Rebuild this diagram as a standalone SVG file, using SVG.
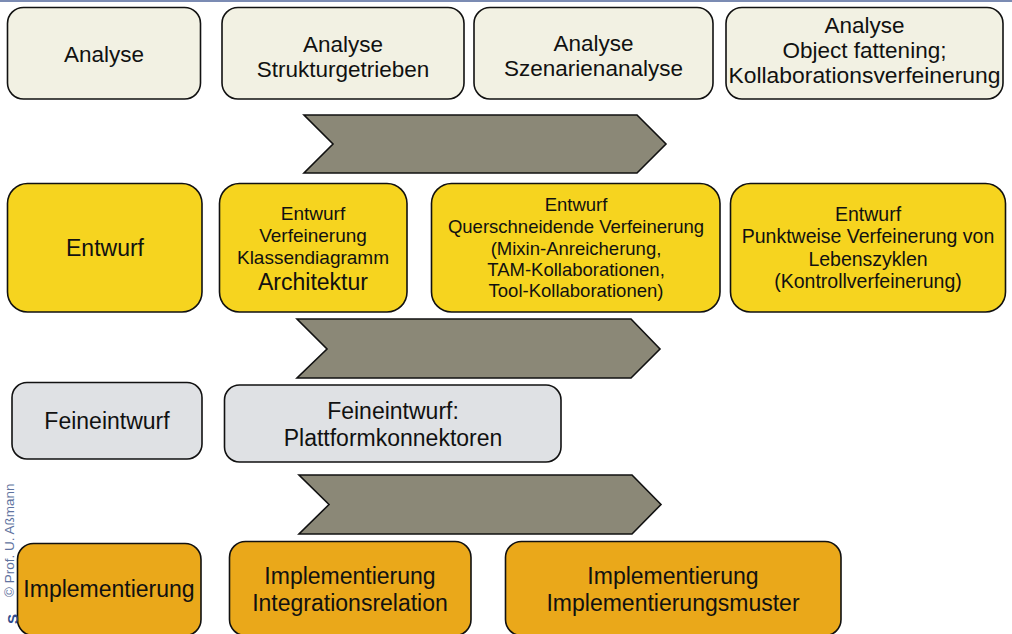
<svg xmlns="http://www.w3.org/2000/svg" width="1012" height="634" viewBox="0 0 1012 634">
<style>
text{font-family:"Liberation Sans",Arial,sans-serif;fill:#111;text-anchor:middle}
.box{stroke:#111;stroke-width:1.6}
.ana{fill:#f2f1e3}
.ent{fill:#f6d41f}
.fei{fill:#dfe1e4}
.imp{fill:#eaa81a}
.chev{fill:#8b8877;stroke:#111;stroke-width:1.6;stroke-linejoin:miter}
.big{font-size:23px}
.r1{font-size:22.5px}
.s19{font-size:19px}
.s185{font-size:18.5px}
.s195{font-size:19.5px}
</style>
<rect x="0" y="0" width="1012" height="634" fill="#ffffff"/>
<line x1="0" y1="1" x2="1012" y2="1" stroke="#7b8bb3" stroke-width="2"/>

<g id="connectors">
<polygon class="chev" points="304,115 637,115 666,144 637,173 304,173 333,144"/>
<polygon class="chev" points="297,319 631,319 660,349 631,378 297,378 327,349"/>
<polygon class="chev" points="299,475 632,475 661,504.5 632,534 299,534 329,504.5"/>
</g>

<g id="analyse">
<rect class="box ana" x="7.5" y="7.5" width="193" height="91.5" rx="16"/>
<text class="r1" x="104" y="62">Analyse</text>
</g>
<g id="analyse-struktur">
<rect class="box ana" x="222" y="7.5" width="242" height="91.5" rx="16"/>
<text class="r1" x="343" y="52">Analyse</text>
<text class="r1" x="343" y="77">Strukturgetrieben</text>
</g>
<g id="analyse-szenario">
<rect class="box ana" x="474" y="7.5" width="239" height="91.5" rx="16"/>
<text class="r1" x="593.5" y="51">Analyse</text>
<text class="r1" x="593.5" y="76">Szenarienanalyse</text>
</g>
<g id="analyse-object">
<rect class="box ana" x="726" y="7.5" width="277" height="91.5" rx="16"/>
<text class="r1" x="864.5" y="33">Analyse</text>
<text class="r1" x="864.5" y="58">Object fattening;</text>
<text class="r1" x="864.5" y="83" textLength="272" lengthAdjust="spacingAndGlyphs">Kollaborationsverfeinerung</text>
</g>

<g id="entwurf">
<rect class="box ent" x="7.5" y="183.5" width="194.5" height="128.5" rx="20"/>
<text class="big" x="105" y="256">Entwurf</text>
</g>
<g id="entwurf-verfeinerung">
<rect class="box ent" x="219.5" y="183.5" width="187.5" height="128.5" rx="20"/>
<text class="s19" x="313" y="220">Entwurf</text>
<text class="s19" x="313" y="242">Verfeinerung</text>
<text class="s19" x="313" y="264">Klassendiagramm</text>
<text class="big" x="313" y="290">Architektur</text>
</g>
<g id="entwurf-querschneidend">
<rect class="box ent" x="431.5" y="183.5" width="288.5" height="128.5" rx="20"/>
<text class="s185" x="576" y="211">Entwurf</text>
<text class="s185" x="576" y="233">Querschneidende Verfeinerung</text>
<text class="s185" x="576" y="255">(Mixin-Anreicherung,</text>
<text class="s185" x="576" y="276">TAM-Kollaborationen,</text>
<text class="s185" x="576" y="297">Tool-Kollaborationen)</text>
</g>
<g id="entwurf-punktweise">
<rect class="box ent" x="730.5" y="183.5" width="275" height="128.5" rx="20"/>
<text class="s195" x="868" y="221">Entwurf</text>
<text class="s195" x="868" y="243">Punktweise Verfeinerung von</text>
<text class="s195" x="868" y="266">Lebenszyklen</text>
<text class="s195" x="868" y="288">(Kontrollverfeinerung)</text>
</g>

<g id="feinentwurf">
<rect class="box fei" x="12" y="382.5" width="190" height="76.5" rx="15"/>
<text class="big" x="107" y="429">Feineintwurf</text>
</g>
<g id="feinentwurf-plattform">
<rect class="box fei" x="224.5" y="385" width="336.5" height="77" rx="15"/>
<text class="big" x="393" y="419">Feineintwurf:</text>
<text class="big" x="393" y="446">Plattformkonnektoren</text>
</g>

<g id="implementierung">
<rect class="box imp" x="17.5" y="543.5" width="183.5" height="92" rx="16"/>
<text class="big" x="109" y="597">Implementierung</text>
</g>
<g id="implementierung-integration">
<rect class="box imp" x="229.5" y="541.5" width="241.5" height="94" rx="16"/>
<text class="big" x="350" y="584">Implementierung</text>
<text class="big" x="350" y="611">Integrationsrelation</text>
</g>
<g id="implementierung-muster">
<rect class="box imp" x="505.5" y="541.5" width="335.5" height="94" rx="16"/>
<text class="big" x="673" y="584">Implementierung</text>
<text class="big" x="673" y="611">Implementierungsmuster</text>
</g>

<g id="watermark">
<text transform="translate(14,597) rotate(-90)" style="font-size:13.5px;fill:#5f73a0;text-anchor:start">© Prof. U. Aßmann</text>
<text transform="translate(18,619) rotate(-90)" style="font-size:15px;font-weight:bold;fill:#2f4d8e;text-anchor:middle">S</text>
</g>
</svg>
